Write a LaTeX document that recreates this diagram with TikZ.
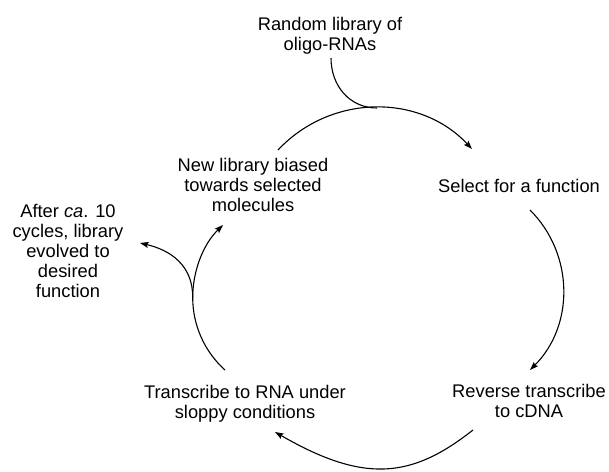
\documentclass[tikz,border=0pt]{standalone}
\usepackage{fontspec}
\setmainfont{Liberation Sans}
\usetikzlibrary{arrows.meta}
\tikzset{
  lbl/.style={anchor=base, inner sep=0pt, align=center, font=\fontsize{18.3}{20}\selectfont},
  conn/.style={line width=1.1pt, black},
  arr/.style={conn, -{Stealth[length=8.5pt,width=6pt,inset=1.5pt]}}
}
\begin{document}
\begin{tikzpicture}[x=1pt,y=-1pt]
\useasboundingbox (0,0) rectangle (609,471);
% texts (base = baseline of the last line)
\node[lbl] (random) at (330,50) {Random library of\\oligo-RNAs};
\node[lbl] (select) at (519,192) {Select for a function};
\node[lbl] (reverse) at (529,417) {Reverse transcribe\\to cDNA};
\node[lbl] (transcribe) at (245,418) {Transcribe to RNA under\\sloppy conditions};
\node[lbl] (newlib) at (253,211) {New library biased\\towards selected\\molecules};
\node[lbl] (after) at (68,297) {After \textit{ca}. 10\\cycles, library\\evolved to\\desired\\function};
% connector end points
\coordinate (feedS) at (331,58);
\coordinate (feedE) at (377,108);
\coordinate (topS) at (278,150);
\coordinate (topE) at (472,149);
\coordinate (rightS) at (530,210);
\coordinate (rightE) at (530,370);
\coordinate (botS) at (473,430);
\coordinate (botE) at (275,432);
\coordinate (leftS) at (225,370);
\coordinate (junc) at (192.7,297.6);
\coordinate (leftE) at (223,225);
\coordinate (outE) at (140,243);
% connectors
\draw[conn] (feedS) .. controls (331,85.6) and (349.4,108) .. (feedE);
\draw[arr] (topS) .. controls (330.5,94) and (419.5,93) .. (topE);
\draw[arr] (rightS) .. controls (574.3,254.3) and (574.3,325.7) .. (rightE);
\draw[arr] (botS) .. controls (412,478) and (365,484) .. (botE);
\draw[arr] (leftS) .. controls (204.5,351.6) and (192.7,325.2) .. (junc)
           .. controls (192.7,270.9) and (203.3,244) .. (leftE);
\draw[arr] (junc) .. controls (193,265) and (170,250) .. (outE);
\end{tikzpicture}
\end{document}
